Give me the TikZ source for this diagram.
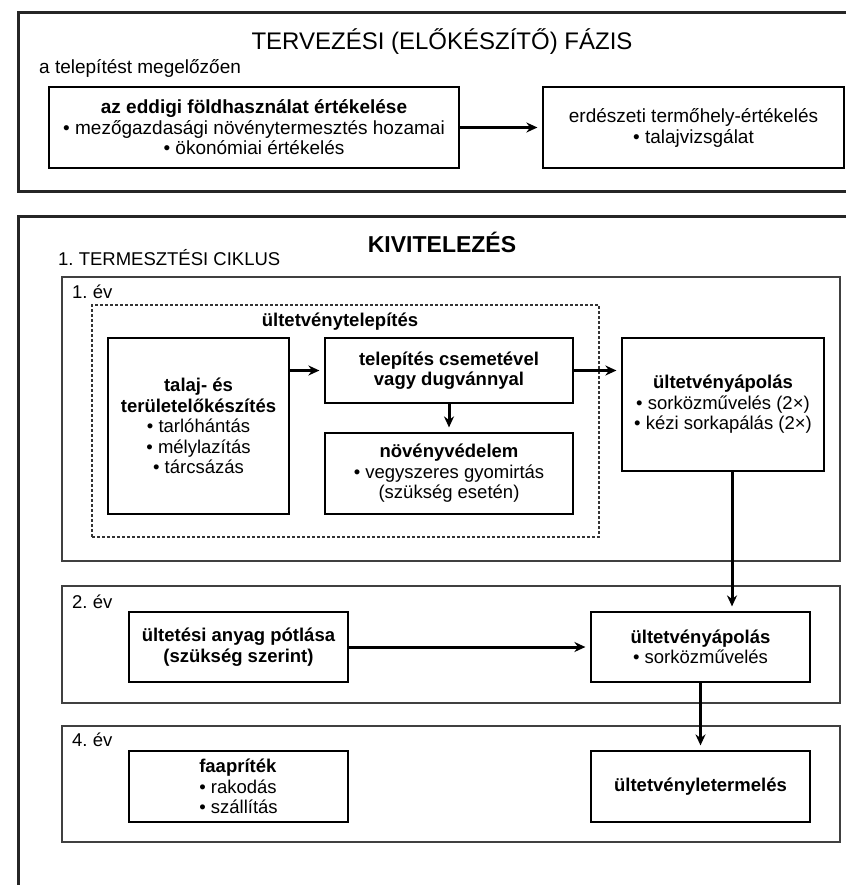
\documentclass[tikz,border=0pt]{standalone}
\usepackage{fontspec}
\setmainfont{Liberation Sans}
\usetikzlibrary{arrows.meta,positioning}
\newcommand{\txtsize}{\fontsize{18.5}{20.5}\selectfont}
\frenchspacing

\begin{document}
\begin{tikzpicture}[x=1pt, y=-1pt,
  frame/.style={line width=3pt, draw=black!85},
  yearbox/.style={rectangle, draw=black!75, line width=1.3pt, minimum width=778pt},
  block/.style={rectangle, draw=black, line width=1.2pt, align=center, font=\txtsize, inner sep=2pt},
  plan/.style={rectangle, draw=black!80, line width=1.1pt, dash pattern=on 3pt off 2pt},
  tag/.style={font=\txtsize, anchor=west, inner sep=0pt},
  arrow/.style={-{Stealth[length=11pt,width=10pt]}, line width=3pt, shorten >=5pt}
]
\useasboundingbox (0,0) rectangle (846,885);

% outer frames
\draw[frame] (846,13) -- (18,13) -- (18,192) -- (846,192);
\draw[frame] (846,217) -- (18,217) -- (18,885);

% planning phase
\node[font=\fontsize{24}{26}\selectfont] (title1) at (442,42) {TERVEZÉSI (ELŐKÉSZÍTŐ) FÁZIS};
\node[tag, font=\fontsize{19}{21}\selectfont] (before) at (39,68) {a telepítést megelőzően};
\node[block, font=\fontsize{19}{20.5}\selectfont, minimum width=410pt, minimum height=81pt] (landuse) at (254,127.5)
  {\textbf{az eddigi földhasználat értékelése}\\• mezőgazdasági növénytermesztés hozamai\\• ökonómiai értékelés};
\node[block, font=\fontsize{19}{21}\selectfont, minimum width=301pt, minimum height=81pt] (site) at (693.5,127.5)
  {erdészeti termőhely-értékelés\\• talajvizsgálat};
\draw[arrow] (landuse) -- (site);

% implementation
\node[font=\bfseries\fontsize{23}{25}\selectfont] (title2) at (442,242) {KIVITELEZÉS};
\node[tag] (cycle) at (58,258) {1. TERMESZTÉSI CIKLUS};

% years
\node[yearbox, minimum height=284pt] (year1) at (451,419) {};
\node[yearbox, minimum height=117pt] (year2) at (451,644.5) {};
\node[yearbox, minimum height=116pt] (year4) at (451,784) {};
\node[tag] (y1tag) at (72,292) {1. év};
\node[tag] (y2tag) at (72,602) {2. év};
\node[tag] (y4tag) at (72,740) {4. év};

% year 1
\node[plan, minimum width=507pt, minimum height=232pt] (planting) at (345.5,421) {};
\node[font=\txtsize\bfseries] (plantag) at (340,322) {ültetvénytelepítés};
\node[block, minimum width=181pt, minimum height=176pt] (soil) at (198.5,426)
  {\textbf{talaj- és}\\\textbf{területelőkészítés}\\• tarlóhántás\\• mélylazítás\\• tárcsázás};
\node[block, minimum width=248pt, minimum height=65pt] (setting) at (449,370.5)
  {\textbf{telepítés csemetével}\\\textbf{vagy dugvánnyal}};
\node[block, minimum width=248pt, minimum height=81pt] (protect) at (449,473.5)
  {\textbf{növényvédelem}\\• vegyszeres gyomirtás\\(szükség esetén)};
\node[block, minimum width=202pt, minimum height=133pt] (care1) at (723,404.5)
  {\textbf{ültetvényápolás}\\• sorközművelés (2×)\\• kézi sorkapálás (2×)};

% year 2
\node[block, minimum width=219pt, minimum height=70pt] (refill) at (238.5,647)
  {\textbf{ültetési anyag pótlása}\\\textbf{(szükség szerint)}};
\node[block, minimum width=219pt, minimum height=70pt] (care2) at (700.5,647)
  {\textbf{ültetvényápolás}\\• sorközművelés};

% year 4
\node[block, align=left, minimum width=219pt, minimum height=71pt] (chips) at (238.5,786.5)
  {\textbf{faapríték}\\• rakodás\\• szállítás};
\node[block, minimum width=219pt, minimum height=71pt] (harvest) at (700.5,786.5)
  {\textbf{ültetvényletermelés}};

% connectors
\draw[arrow] (soil.east |- setting.west) -- (setting.west);
\draw[arrow] (setting.east) -- (setting.east -| care1.west);
\draw[arrow] (setting.south) -- (protect.north);
\draw[arrow] ([xshift=9pt]care1.south) -- ([xshift=9pt]care1.south |- care2.north);
\draw[arrow] (refill) -- (care2);
\draw[arrow] (care2) -- (harvest);
\end{tikzpicture}
\end{document}
